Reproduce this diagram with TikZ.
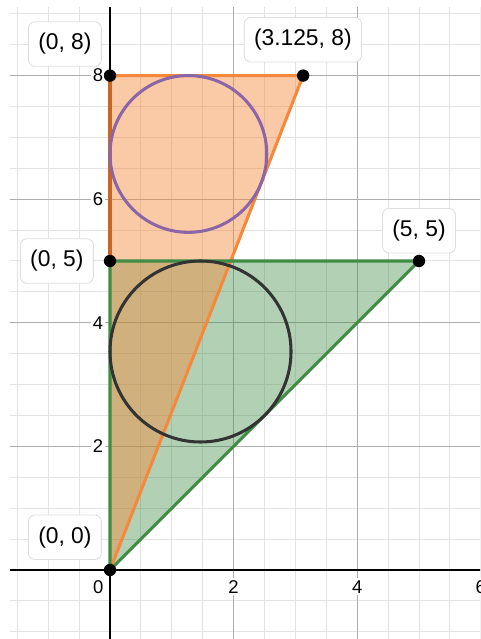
\documentclass[tikz,border=0pt]{standalone}
\usepackage{fontspec}
\setmainfont{Liberation Sans}
\usetikzlibrary{calc, positioning}
\definecolor{orangelinie}{HTML}{F5883A}
\definecolor{orangedunkel}{HTML}{CC6424}
\definecolor{gruenlinie}{HTML}{3F8C44}
\definecolor{lila}{HTML}{8A65A8}

\begin{document}
\begin{tikzpicture}[
        gitter/.style={line width=0.45pt, black!11},
        hauptgitter/.style={line width=0.5pt, black!32},
        seite/.style={line width=1.4pt, line join=round},
        punkt/.style={circle, fill=black, inner sep=0pt, minimum size=0.2cm},
        etikett/.style={draw=black!13, fill=white, rounded corners=3pt,
                        minimum height=0.72cm, inner xsep=1.6mm,
                        font=\fontsize{10.5}{12}\selectfont},
        zahl/.style={fill=white, inner sep=1pt, font=\fontsize{8.5}{10}\selectfont}
      ]
      \useasboundingbox (-1.78,-1.1165) rectangle (5.987,9.223);
      % Raster
      \begin{scope}
        \clip (-1.62,-1.1165) rectangle (5.987,9.094);
        \draw[gitter, step=0.5] (-2,-1.5) grid (6.5,9.5);
        \draw[hauptgitter, step=2] (-2,-2) grid (6,10);
        \draw[line width=0.9pt] (-1.62,0) -- (6.5,0);
        \draw[line width=0.9pt] (0,-1.2) -- (0,9.5);
      \end{scope}
      \foreach \y in {2,4,6,8}
        \node[zahl, anchor=east] (y\y) at (-0.07,\y) {\y};
      \foreach \x in {2,4,6}
        \node[zahl] (x\x) at (\x,-0.27) {\x};
      \node[zahl] (x0) at (-0.19,-0.27) {0};

      \coordinate (O) at (0,0);
      \coordinate (A) at (0,8);
      \coordinate (B) at (3.125,8);
      \coordinate (C) at (0,5);
      \coordinate (D) at (5,5);

      % Dreiecke
      \fill[gruenlinie, fill opacity=0.4] (O) -- (C) -- (D) -- cycle;
      \fill[orangelinie, fill opacity=0.45] (O) -- (A) -- (B) -- cycle;
      \draw[seite, orangelinie] (A) -- (B) -- (O);
      \draw[seite, orangedunkel] (C) -- (A);
      \draw[seite, gruenlinie] (O) -- (C) -- (D) -- cycle;

      % Inkreise
      \pgfmathsetmacro\ro{(8+3.125-veclen(8,3.125))/2}
      \pgfmathsetmacro\rg{(5+5-veclen(5,5))/2}
      \draw[seite, lila] (\ro,8-\ro) circle (\ro);
      \draw[seite, black!80] (\rg,5-\rg) circle (\rg);

      \node[punkt] (pO) at (O) {};
      \node[punkt] (pA) at (A) {};
      \node[punkt] (pB) at (B) {};
      \node[punkt] (pC) at (C) {};
      \node[punkt] (pD) at (D) {};

      \node[etikett] (lA) at (-0.73,8.51) {(0, 8)};
      \node[etikett] (lB) at (3.12,8.58) {(3.125, 8)};
      \node[etikett] (lC) at (-0.86,5.0) {(0, 5)};
      \node[etikett] (lD) at (5.0,5.49) {(5, 5)};
      \node[etikett] (lO) at (-0.73,0.53) {(0, 0)};
    \end{tikzpicture}
\end{document}
